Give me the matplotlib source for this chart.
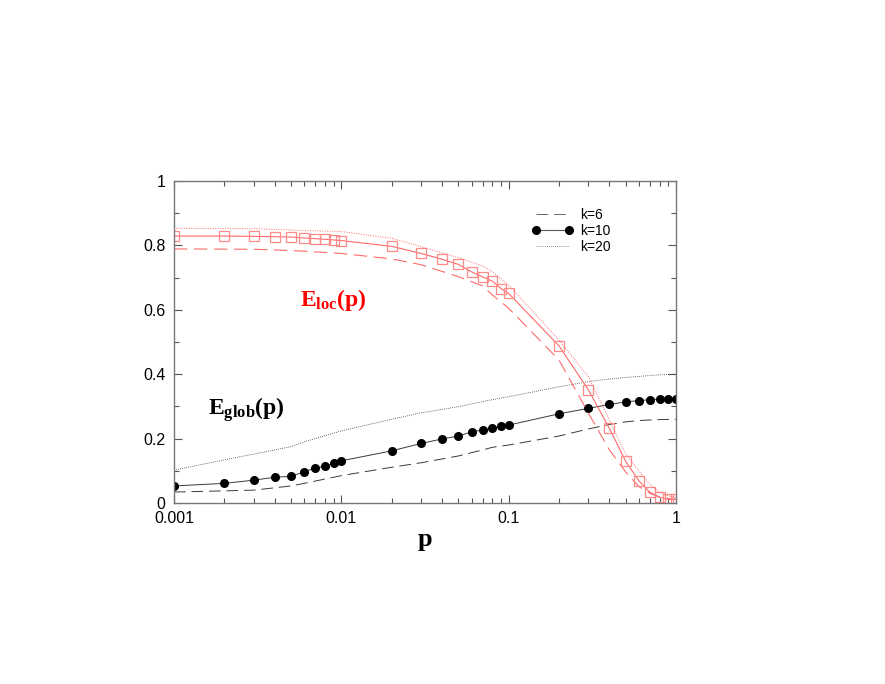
import matplotlib
matplotlib.use('Agg')
import matplotlib.pyplot as plt
from matplotlib.lines import Line2D
from matplotlib.ticker import LogLocator, MultipleLocator, FixedFormatter, NullFormatter

# Data
p_pts = [0.001, 0.002, 0.003, 0.004, 0.005, 0.006, 0.007, 0.008, 0.009, 0.01,
         0.02, 0.03, 0.04, 0.05, 0.06, 0.07, 0.08, 0.09, 0.1,
         0.2, 0.3, 0.4, 0.5, 0.6, 0.7, 0.8, 0.9, 1.0]

eglob_k10 = [0.053, 0.061, 0.071, 0.080, 0.083, 0.097, 0.109, 0.114, 0.123, 0.131,
             0.162, 0.185, 0.199, 0.208, 0.221, 0.227, 0.232, 0.240, 0.242,
             0.277, 0.294, 0.306, 0.314, 0.318, 0.321, 0.323, 0.323, 0.323]

eloc_k10 = [0.829, 0.829, 0.828, 0.827, 0.826, 0.823, 0.821, 0.819, 0.817, 0.815,
            0.797, 0.775, 0.757, 0.741, 0.718, 0.702, 0.689, 0.666, 0.651,
            0.488, 0.351, 0.232, 0.130, 0.069, 0.033, 0.018, 0.011, 0.011]

p_k6 = [0.001, 0.003, 0.005, 0.006, 0.01, 0.02, 0.03, 0.05, 0.07, 0.08, 0.1,
        0.2, 0.3, 0.4, 0.5, 0.6, 0.7, 0.8, 1.0]
eglob_k6 = [0.034, 0.040, 0.053, 0.061, 0.085, 0.111, 0.125, 0.146, 0.165, 0.173, 0.180,
            0.208, 0.230, 0.244, 0.252, 0.256, 0.258, 0.259, 0.260]
eloc_k6 = [0.789, 0.788, 0.784, 0.782, 0.775, 0.758, 0.740, 0.703, 0.674, 0.646, 0.605,
           0.444, 0.279, 0.165, 0.097, 0.051, 0.030, 0.018, 0.011]

p_k20 = [0.001, 0.002, 0.003, 0.005, 0.006, 0.01, 0.02, 0.03, 0.05, 0.07, 0.08, 0.1,
         0.2, 0.3, 0.4, 0.5, 0.6, 0.7, 0.8, 0.9, 1.0]
eglob_k20 = [0.102, 0.134, 0.152, 0.175, 0.190, 0.224, 0.260, 0.280, 0.299, 0.315, 0.321, 0.330,
             0.361, 0.377, 0.385, 0.390, 0.393, 0.396, 0.398, 0.399, 0.400]
eloc_k20 = [0.853, 0.852, 0.852, 0.848, 0.846, 0.843, 0.822, 0.796, 0.762, 0.736, 0.718, 0.677,
            0.506, 0.392, 0.258, 0.152, 0.100, 0.058, 0.033, 0.022, 0.016]

xtick_vals = [0.001, 0.01, 0.1, 1]
xtick_labels = ['0.001', '0.01', '0.1', '1']
ytick_vals = [0, 0.2, 0.4, 0.6, 0.8, 1]
ytick_labels = ['0', '0.2', '0.4', '0.6', '0.8', '1']

red = '#ff6a6a'
red_mk = '#ff8a8a'
blk = '#3a3a3a'

plt.rcParams['mathtext.fontset'] = 'custom'
plt.rcParams['mathtext.bf'] = 'Liberation Serif:bold'
plt.rcParams['mathtext.rm'] = 'Liberation Serif'
plt.rcParams['font.family'] = 'Liberation Sans'

fig = plt.figure(figsize=(8.85, 6.84), dpi=100)
ax = fig.add_axes([0.1966, 0.2646, 0.5672, 0.4708])

# E_glob curves (black)
ax.plot(p_k6, eglob_k6, color=blk, lw=0.7, dashes=(12, 6))
ax.plot(p_pts, eglob_k10, color=blk, lw=0.7, marker='o', ms=5.5,
        mfc='black', mec='black')
ax.plot(p_k20, eglob_k20, color=blk, lw=0.6, dashes=(1, 1.5))

# E_loc curves (red)
ax.plot(p_k6, eloc_k6, color=red, lw=0.8, dashes=(12, 6))
ax.plot(p_pts, eloc_k10, color=red, lw=0.8, marker='s', ms=6.5,
        mfc='none', mec=red_mk, mew=0.9)
ax.plot(p_k20, eloc_k20, color=red, lw=0.7, dashes=(1, 1.5))

ax.set_xscale('log')
ax.set_xlim(0.001, 1)
ax.set_ylim(0, 1)

ax.set_xticks(xtick_vals)
ax.xaxis.set_major_formatter(FixedFormatter(xtick_labels))
ax.xaxis.set_minor_locator(LogLocator(base=10, subs=range(2, 10)))
ax.xaxis.set_minor_formatter(NullFormatter())
ax.set_yticks(ytick_vals)
ax.set_yticklabels(ytick_labels)
ax.yaxis.set_minor_locator(MultipleLocator(0.1))

ax.tick_params(which='both', direction='in', top=True, right=True,
               color='#555555', labelsize=11.5, pad=6)
ax.tick_params(which='major', length=6, width=0.8)
ax.tick_params(which='minor', length=3.5, width=0.8)
for s in ax.spines.values():
    s.set_color('#777777')
    s.set_linewidth(1.0)

ax.set_xlabel(r'$\mathbf{p}$', fontsize=19, labelpad=2)

ax.text(0.0089, 0.63, r'$\mathbf{E_{loc}(p)}$', color='red', fontsize=17,
        ha='center', va='center')
ax.text(0.0027, 0.289, r'$\mathbf{E_{glob}(p)}$', color='black', fontsize=17,
        ha='center', va='center')

handles = [
    Line2D([], [], color='#666666', lw=0.7, dashes=(12, 6)),
    Line2D([], [], color='#555555', lw=0.8, marker='o', ms=5.5,
           mfc='black', mec='black'),
    Line2D([], [], color='#666666', lw=0.6, dashes=(1, 1.5)),
]
ax.legend(handles, ['k=6', 'k=10', 'k=20'], loc='upper right',
          bbox_to_anchor=(0.895, 0.955), frameon=False, fontsize=10,
          numpoints=2, handlelength=3.0, handletextpad=0.5, labelspacing=0.15)

fig.savefig('out.png', dpi=100)
